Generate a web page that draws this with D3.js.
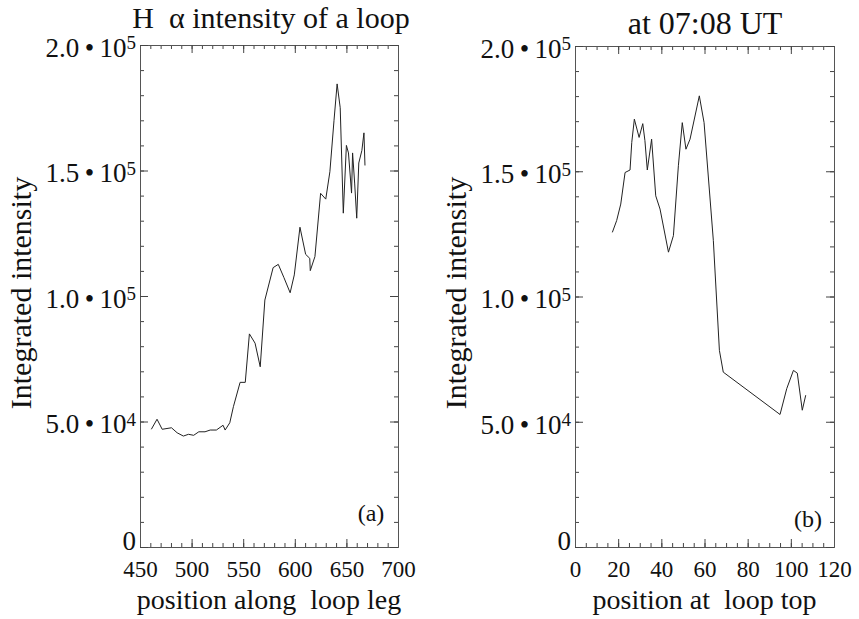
<!DOCTYPE html>
<html>
<head>
<meta charset="utf-8">
<script src="https://cdn.jsdelivr.net/npm/d3@7"></script>
<style>
  body { margin: 0; background: #fff; }
  svg text { font-family: "Liberation Serif", "DejaVu Serif", serif; fill: #111; white-space: pre; }
</style>
</head>
<body>
<div id="chart-area"></div>
<script>
// panel (a): position along loop leg
const legPos = [461, 466.5, 471.5, 480.5, 486, 492, 497, 502, 507, 513, 518, 524, 530.5, 532.5, 537, 540.5, 547, 552, 556, 561.5, 566.5, 571, 579, 584, 589.5, 595.5, 599.5, 605, 610.5, 614.5, 615, 619.5, 625, 630, 634, 638, 641, 644, 647, 650, 652, 655, 656, 658, 660, 662, 665, 667, 668];
const legVal = [46900, 50900, 46900, 47500, 45500, 44200, 44900, 44500, 45900, 45900, 46600, 46600, 48500, 46600, 49500, 55900, 65600, 65600, 84900, 81200, 71800, 98400, 111300, 112600, 107300, 101300, 108400, 127400, 116600, 115000, 110100, 115700, 140900, 138600, 149500, 170000, 184500, 175000, 133000, 160000, 157000, 141000, 157000, 145000, 131000, 153000, 158000, 165000, 152000];

// panel (b): position at loop top
const topPos = [17.3, 19.3, 21.2, 23.2, 25.5, 26.3, 27.5, 29.7, 31.4, 32.4, 33.5, 35.5, 37.4, 39.4, 43.3, 45.6, 47.9, 49.7, 51.4, 53.3, 57.6, 59.8, 64.1, 66.9, 68.7, 95, 98.1, 101.2, 103, 105.3, 106.9];
const topVal = [125600, 130300, 136900, 149500, 150500, 161500, 170800, 163500, 169000, 162200, 150500, 162800, 140200, 134900, 117700, 124300, 152200, 169400, 158800, 162800, 180100, 169400, 122300, 78500, 69800, 52900, 63200, 70500, 69400, 54600, 60600];

const yTicks = [0, 50000, 100000, 150000, 200000];
const legTicks = [450, 500, 550, 600, 650, 700];
const topTicks = [0, 20, 40, 60, 80, 100, 120];

const W = 859, H = 619;
const svg = d3.select("#chart-area").append("svg")
  .attr("width", W).attr("height", H);

// "1.5•10^5" style labels
function yLabel(sel) {
  sel.each(function(d) {
    const t = d3.select(this).text("");
    if (d === 0) { t.attr("dy", "0.1em").text("0"); return; }
    const e = Math.floor(Math.log10(d));
    const m = d / Math.pow(10, e);
    t.append("tspan").text(m.toFixed(1) + "\u2009\u2022\u2009" + "10");
    t.append("tspan").attr("dy", "-0.4em").style("font-size", "19px").text(e);
  });
}

function panel(cfg) {
  const x = d3.scaleLinear().domain(cfg.xDomain).range([cfg.left, cfg.right]);
  const y = d3.scaleLinear().domain([0, 200000]).range([547, cfg.top]);
  const g = svg.append("g");
  const minorY = d3.range(0, 200001, 10000);
  const minorX = d3.range(cfg.xDomain[0], cfg.xDomain[1] + 0.001, cfg.xMinor);

  const style = a => a.call(s => s.selectAll("line, path").attr("stroke", "#444").attr("stroke-width", 1));

  // minor ticks
  g.append("g").attr("transform", "translate(0,547)")
    .call(d3.axisBottom(x).tickValues(minorX).tickSize(-4).tickSizeOuter(0).tickFormat(""))
    .call(style);
  g.append("g").attr("transform", "translate(0," + cfg.top + ")")
    .call(d3.axisTop(x).tickValues(minorX).tickSize(-4).tickSizeOuter(0).tickFormat(""))
    .call(style);
  g.append("g").attr("transform", "translate(" + cfg.left + ",0)")
    .call(d3.axisLeft(y).tickValues(minorY).tickSize(-4).tickSizeOuter(0).tickFormat(""))
    .call(style);
  g.append("g").attr("transform", "translate(" + cfg.right + ",0)")
    .call(d3.axisRight(y).tickValues(minorY).tickSize(-4).tickSizeOuter(0).tickFormat(""))
    .call(style);

  // major ticks + labels
  const xb = g.append("g").attr("transform", "translate(0,547)")
    .call(d3.axisBottom(x).tickValues(cfg.xTicks).tickSize(-8).tickSizeOuter(0).tickPadding(14))
    .call(style);
  xb.selectAll("text").style("font-size", "23px");
  g.append("g").attr("transform", "translate(0," + cfg.top + ")")
    .call(d3.axisTop(x).tickValues(cfg.xTicks).tickSize(-8).tickSizeOuter(0).tickFormat(""))
    .call(style);
  const yl = g.append("g").attr("transform", "translate(" + cfg.left + ",0)")
    .call(d3.axisLeft(y).tickValues(yTicks).tickSize(-8).tickSizeOuter(0).tickPadding(4))
    .call(style);
  yl.selectAll("text").style("font-size", "27px").attr("dy", "0.42em").call(yLabel);
  g.append("g").attr("transform", "translate(" + cfg.right + ",0)")
    .call(d3.axisRight(y).tickValues(yTicks).tickSize(-8).tickSizeOuter(0).tickFormat(""))
    .call(style);
  g.selectAll(".domain").attr("stroke", "#555");

  // data
  const line = d3.line().x(d => x(d[0])).y(d => y(d[1]));
  g.append("path")
    .datum(d3.zip(cfg.pos, cfg.val))
    .attr("fill", "none")
    .attr("stroke", "#222")
    .attr("stroke-width", 1)
    .attr("d", line);

  // texts
  g.append("text")
    .attr("x", (cfg.left + cfg.right) / 2).attr("y", 609)
    .style("font-size", "28px").style("text-anchor", "middle")
    .text(cfg.xTitle);
  g.append("text")
    .attr("transform", "translate(" + cfg.yTitleX + ",293) rotate(-90)")
    .style("font-size", "30px").style("text-anchor", "middle")
    .text("Integrated intensity");
  g.append("text")
    .attr("x", cfg.titleX).attr("y", cfg.titleY)
    .style("font-size", cfg.titleSize).style("text-anchor", "middle")
    .text(cfg.title);
  g.append("text")
    .attr("x", cfg.tagX).attr("y", cfg.tagY)
    .style("font-size", "24px").style("text-anchor", "middle")
    .text(cfg.tag);
}

panel({
  left: 140, right: 398, top: 45,
  xDomain: [450, 700], xTicks: legTicks, xMinor: 10,
  pos: legPos, val: legVal,
  xTitle: "position along  loop leg",
  yTitleX: 31,
  title: "H  \u03b1 intensity of a loop", titleX: 271, titleY: 28, titleSize: "30px",
  tag: "(a)", tagX: 371, tagY: 521
});

panel({
  left: 575, right: 834, top: 46,
  xDomain: [0, 120], xTicks: topTicks, xMinor: 5,
  pos: topPos, val: topVal,
  xTitle: "position at  loop top",
  yTitleX: 466,
  title: "at 07:08 UT", titleX: 705, titleY: 34, titleSize: "32px",
  tag: "(b)", tagX: 808, tagY: 527
});
</script>
</body>
</html>
